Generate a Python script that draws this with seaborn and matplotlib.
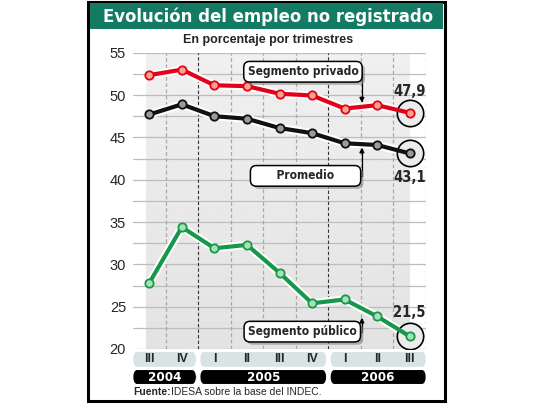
import numpy as np
import pandas as pd
import matplotlib
matplotlib.use("Agg")
import matplotlib.pyplot as plt
import matplotlib.patheffects as pe
from matplotlib.patches import FancyBboxPatch, Rectangle
import seaborn as sns

# datos
trimestres = ["III", "IV", "I", "II", "III", "IV", "I", "II", "III"]
anios = ["2004", "2005", "2006"]
anio_trim = [2, 4, 3]  # cantidad de trimestres por anio
privado = [52.35, 53.0, 51.15, 51.05, 50.15, 49.95, 48.4, 48.8, 47.9]
promedio = [47.7, 48.9, 47.5, 47.2, 46.1, 45.5, 44.3, 44.1, 43.1]
publico = [27.8, 34.4, 31.9, 32.3, 29.0, 25.4, 25.85, 23.85, 21.5]
etiquetas = ["47,9", "43,1", "21,5"]

sns.set_style("white")
plt.rcParams["font.family"] = ["Liberation Sans", "DejaVu Sans"]
COND = dict(family="DejaVu Sans", fontstretch="condensed")

fig = plt.figure(figsize=(5.4, 4.05), dpi=100)
fig.patch.set_facecolor("white")

# marco y titulo
fig.add_artist(Rectangle((88 / 540, 1 - 401 / 405), 357 / 540, 399 / 405,
                         transform=fig.transFigure, fill=False, ec="black", lw=2.2))
fig.add_artist(Rectangle((90 / 540, 1 - 29 / 405), 353 / 540, 26 / 405,
                         transform=fig.transFigure, fc="#137a64", ec="none"))
fig.text(268 / 540, 1 - 16.5 / 405, "Evolución del empleo no registrado", color="white",
         fontsize=13.2, fontweight="bold", ha="center", va="center", **COND)
fig.text(268 / 540, 1 - 40 / 405, "En porcentaje por trimestres", fontsize=9,
         fontweight="bold", ha="center", va="center")

ax = fig.add_axes([133 / 540, 1 - 349 / 405, 293 / 540, 296.3 / 405])
ax.set_xlim(-0.5, 8.5)
ax.set_ylim(20, 55)
for s in ax.spines.values():
    s.set_visible(False)

# fondo gris
grad = np.linspace(0.94, 0.89, 256).reshape(-1, 1)
ax.imshow(grad, extent=(-0.1, 8.0, 20, 55), origin="upper", cmap="gray",
          vmin=0, vmax=1, aspect="auto", zorder=0)

for yv in np.arange(20, 55.1, 2.5):
    ax.axhline(yv, color="#bdbdbd", lw=0.9, zorder=1)
for xv in np.arange(0.5, 8.6, 1):
    if xv in (1.5, 5.5):
        ax.axvline(xv, color="#333333", lw=0.8, ls=(0, (3, 2)), zorder=1)
    else:
        ax.axvline(xv, color="#a8a8a8", lw=0.9, ls=(0, (3, 2)), zorder=1)

ax.set_yticks(range(20, 56, 5))
ax.set_xticks([])
ax.tick_params(axis="y", length=0, pad=5, labelsize=10.5)

x = np.arange(len(trimestres))
df = pd.DataFrame({"x": x, "privado": privado, "promedio": promedio, "publico": publico})

series = [("privado", "#e3001b", "#f7a48a"),
          ("promedio", "#111111", "#9a9a9a"),
          ("publico", "#16984a", "#a8e0b8")]

for col, color, fill in series:
    ax.plot(df["x"], df[col], color="white", lw=6, zorder=2, solid_capstyle="round")
    sns.lineplot(data=df, x="x", y=col, ax=ax, color=color, lw=3, zorder=3)
    ax.plot(df["x"].iloc[-1], df[col].iloc[-1], "o", ms=19, mfc="#ececec",
            mec="black", mew=1.2, zorder=2.5)
    ax.plot(df["x"], df[col], "o", ms=6, mfc=fill, mec=color, mew=1.3, zorder=4)
ax.set_xlabel("")
ax.set_ylabel("")

for ev, yv in zip(etiquetas, [50.45, 40.25, 24.35]):
    ax.text(8, yv, ev, ha="center", va="center", fontsize=10.5, fontweight="bold",
            zorder=7, **COND)

# cuadros de leyenda con flecha
cajas = [("Segmento privado", 4.72, 52.75, 49.1),
         ("Promedio", 4.8, 40.45, 43.8),
         ("Segmento público", 4.7, 22.05, 23.7)]
for txt, bx, by, ty in cajas:
    ax.annotate("", xy=(6.53, ty), xytext=(bx + 1.2, by), zorder=5,
                arrowprops=dict(arrowstyle="-|>", color="black", lw=0.9,
                                mutation_scale=7, shrinkA=0, shrinkB=0,
                                connectionstyle="angle,angleA=0,angleB=90,rad=0"))
    label = "      Promedio      " if txt == "Promedio" else txt
    t = ax.text(bx, by, label, ha="center", va="center", fontsize=8.6, fontweight="bold",
                zorder=6,
                bbox=dict(boxstyle="round,pad=0.32,rounding_size=0.5", fc="white",
                          ec="black", lw=1.1), **COND)
    t.get_bbox_patch().set_path_effects([pe.SimplePatchShadow(offset=(2, -2),
                                                              shadow_rgbFace="#888888",
                                                              alpha=0.6), pe.Normal()])

# trimestres y anios
trans = ax.get_xaxis_transform()
inicio = 0
for i, (anio, n) in enumerate(zip(anios, anio_trim)):
    x0 = -0.5 if i == 0 else inicio - 0.44
    x1 = 8.5 if i == len(anios) - 1 else inicio + n - 1 + 0.44
    ax.add_patch(FancyBboxPatch((x0, -0.06), x1 - x0, 0.05, transform=trans,
                                boxstyle="round,pad=0,rounding_size=0.12",
                                mutation_aspect=0.3,
                                fc="#d8e4e4", ec="none", clip_on=False))
    ax.add_patch(FancyBboxPatch((x0, -0.118), x1 - x0, 0.047, transform=trans,
                                boxstyle="round,pad=0,rounding_size=0.12",
                                mutation_aspect=0.3,
                                fc="black", ec="none", clip_on=False))
    ax.text((x0 + x1) / 2, -0.0945, anio, transform=trans, color="white",
            ha="center", va="center", fontsize=9.5, fontweight="bold", **COND)
    inicio += n

for xi, q in zip(x, trimestres):
    ax.text(xi, -0.035, q, transform=trans, ha="center", va="center",
            fontsize=9, fontweight="bold")

fig.text(133 / 540, 1 - 392 / 405, "Fuente:", fontsize=7.5, fontweight="bold",
         va="center", ha="left")
fig.text(171 / 540, 1 - 392 / 405, "IDESA sobre la base del INDEC.", fontsize=7.5,
         va="center", ha="left")

fig.savefig("out.png", dpi=100)
